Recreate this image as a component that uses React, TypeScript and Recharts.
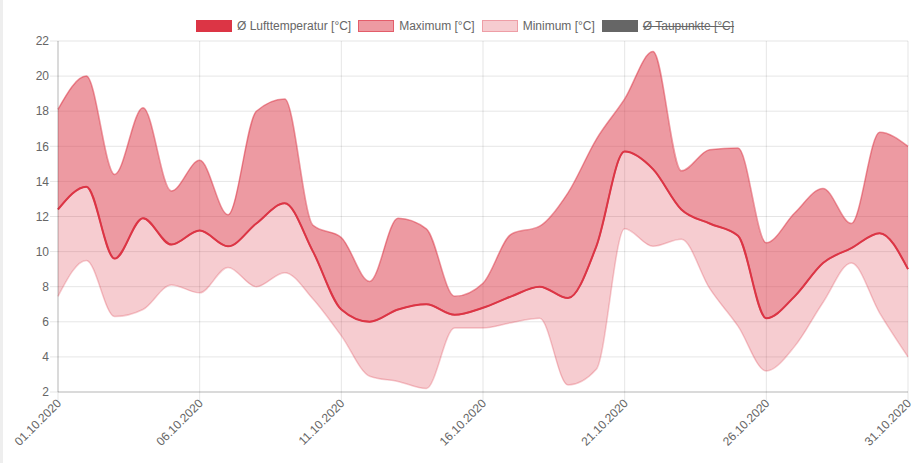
import {
    ComposedChart,
    Area,
    Line,
    XAxis,
    YAxis,
    CartesianGrid,
} from "recharts";

const days = [
    "01.10.2020", "02.10.2020", "03.10.2020", "04.10.2020", "05.10.2020",
    "06.10.2020", "07.10.2020", "08.10.2020", "09.10.2020", "10.10.2020",
    "11.10.2020", "12.10.2020", "13.10.2020", "14.10.2020", "15.10.2020",
    "16.10.2020", "17.10.2020", "18.10.2020", "19.10.2020", "20.10.2020",
    "21.10.2020", "22.10.2020", "23.10.2020", "24.10.2020", "25.10.2020",
    "26.10.2020", "27.10.2020", "28.10.2020", "29.10.2020", "30.10.2020",
    "31.10.2020",
];

const avgTemp = [
    12.4, 13.7, 9.6, 11.9, 10.4, 11.2, 10.3, 11.6, 12.75, 10.0,
    6.7, 6.0, 6.7, 7.0, 6.4, 6.8, 7.45, 8.0, 7.35, 10.3,
    15.7, 14.7, 12.4, 11.6, 10.9, 6.2, 7.45, 9.35, 10.2, 11.05,
    9.0,
];

const maxTemp = [
    18.1, 20.0, 14.4, 18.2, 13.45, 15.2, 12.1, 18.0, 18.7, 11.5,
    10.8, 8.3, 11.9, 11.3, 7.45, 8.2, 11.0, 11.45, 13.35, 16.4,
    18.7, 21.4, 14.6, 15.8, 15.9, 10.5, 12.2, 13.6, 11.6, 16.8,
    16.0,
];

const minTemp = [
    7.45, 9.5, 6.3, 6.7, 8.1, 7.65, 9.1, 8.0, 8.8, 7.3,
    5.2, 2.9, 2.6, 2.2, 5.65, 5.65, 5.95, 6.2, 2.4, 3.3,
    11.3, 10.3, 10.7, 7.9, 5.75, 3.2, 4.6, 7.1, 9.35, 6.5,
    4.0,
];

const yTicks = [2, 4, 6, 8, 10, 12, 14, 16, 18, 20, 22];

const data = days.map((day, i) => ({
    day,
    avg: avgTemp[i],
    upper: [avgTemp[i], maxTemp[i]],
    lower: [minTemp[i], avgTemp[i]],
}));

const legendItems = [
    { label: "Ø Lufttemperatur [°C]", fill: "#dc3545", border: "#dc3545", hidden: false },
    { label: "Maximum [°C]", fill: "rgba(220,53,69,0.5)", border: "rgba(220,53,69,0.6)", hidden: false },
    { label: "Minimum [°C]", fill: "rgba(220,53,69,0.25)", border: "rgba(220,53,69,0.3)", hidden: false },
    { label: "Ø Taupunkte [°C]", fill: "#666666", border: "#666666", hidden: true },
];

const font = "'Liberation Sans', Arial, Helvetica, sans-serif";

function DateTick(props: any) {
    const { x, y, payload } = props;
    const tx = x + 4;
    const ty = y + 2;
    return (
        <text
            x={tx}
            y={ty}
            textAnchor="end"
            fill="#666"
            fontSize={12}
            fontFamily={font}
            transform={`rotate(-45 ${tx} ${ty})`}
        >
            {payload.value}
        </text>
    );
}

function ChartLegend() {
    return (
        <div
            style={{
                position: "absolute",
                top: 19,
                left: 196,
                display: "flex",
                alignItems: "center",
                fontFamily: font,
                fontSize: 12,
                color: "#666",
                whiteSpace: "nowrap",
            }}
        >
            {legendItems.map((item) => (
                <div
                    key={item.label}
                    style={{ display: "flex", alignItems: "center", marginRight: 7 }}
                >
                    <span
                        style={{
                            display: "inline-block",
                            width: 34,
                            height: 10,
                            background: item.fill,
                            border: `1.5px solid ${item.border}`,
                            marginRight: 5,
                        }}
                    />
                    <span style={{ textDecoration: item.hidden ? "line-through" : "none" }}>
                        {item.label}
                    </span>
                </div>
            ))}
        </div>
    );
}

export default function App() {
    return (
        <div style={{ position: "relative", width: 913, height: 463, background: "#fff" }}>
            <style>{"body{margin:0;}"}</style>
            <div
                style={{
                    position: "absolute",
                    left: 0,
                    top: 0,
                    width: 3,
                    height: 463,
                    background: "#eeeeee",
                }}
            />
            <ChartLegend />
            <ComposedChart
                width={913}
                height={463}
                data={data}
                margin={{ top: 41, right: 5, left: 0, bottom: 0 }}
            >
                <CartesianGrid stroke="rgba(0,0,0,0.1)" />
                <XAxis
                    dataKey="day"
                    interval={4}
                    height={71}
                    tick={<DateTick />}
                    tickSize={8}
                    tickLine={{ stroke: "rgba(0,0,0,0.1)" }}
                    axisLine={{ stroke: "rgba(0,0,0,0.2)" }}
                />
                <YAxis
                    domain={[2, 22]}
                    ticks={yTicks}
                    width={58}
                    tickSize={8}
                    tickMargin={1}
                    tick={{ fill: "#666", fontSize: 12, fontFamily: font }}
                    tickLine={{ stroke: "rgba(0,0,0,0.1)" }}
                    axisLine={{ stroke: "rgba(0,0,0,0.2)" }}
                />
                <Area
                    type="monotone"
                    dataKey="lower"
                    fill="rgba(220,53,69,0.25)"
                    fillOpacity={1}
                    stroke="rgba(220,53,69,0.25)"
                    strokeWidth={1.5}
                    dot={false}
                    activeDot={false}
                    isAnimationActive={false}
                />
                <Area
                    type="monotone"
                    dataKey="upper"
                    fill="rgba(220,53,69,0.5)"
                    fillOpacity={1}
                    stroke="rgba(220,53,69,0.5)"
                    strokeWidth={1.5}
                    dot={false}
                    activeDot={false}
                    isAnimationActive={false}
                />
                <Line
                    type="monotone"
                    dataKey="avg"
                    stroke="#dc3545"
                    strokeWidth={2}
                    dot={false}
                    activeDot={false}
                    isAnimationActive={false}
                />
            </ComposedChart>
        </div>
    );
}
